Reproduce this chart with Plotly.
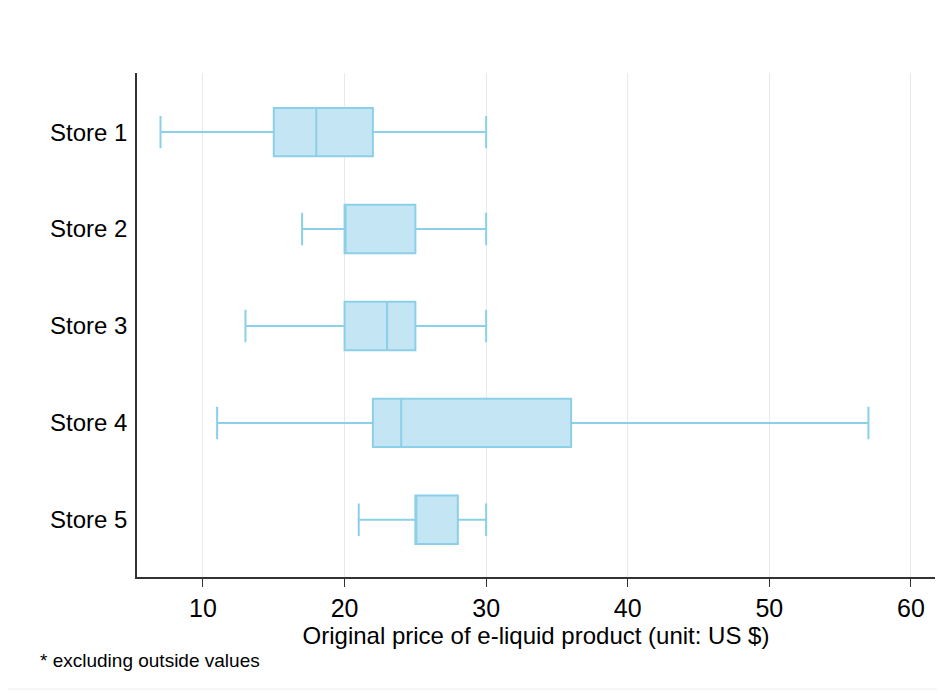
import plotly.graph_objects as go

stores = ["Store 1", "Store 2", "Store 3", "Store 4", "Store 5"]
lower = [7, 17, 13, 11, 21]
q1 = [15, 20, 20, 22, 25]
median = [18, 20, 23, 24, 25]
q3 = [22, 25, 25, 36, 28]
upper = [30, 30, 30, 57, 30]
x_ticks = [10, 20, 30, 40, 50, 60]

fig = go.Figure()
fig.add_trace(go.Box(
    y=stores, q1=q1, median=median, q3=q3,
    lowerfence=lower, upperfence=upper,
    orientation="h",
    fillcolor="#c4e5f4",
    line=dict(color="#8ccfe8", width=2),
    whiskerwidth=0.67,
    boxpoints=False,
    showlegend=False,
))

OFF = 8  # page body margin
W, H = 945 - OFF, 693 - OFF
L, R, T, B = 137 - OFF, 10, 73 - OFF, 116
pw, ph = W - L - R, H - T - B

def px(x):
    return (x - OFF - L) / pw

def py(y):
    return (H - B - (y - OFF)) / ph

narrow = "Liberation Sans Narrow, Arial Narrow, sans-serif"

fig.update_layout(
    width=W, height=H,
    margin=dict(l=L, r=R, t=T, b=B),
    paper_bgcolor="white", plot_bgcolor="white",
    boxgap=0.5, boxgroupgap=0,
    font=dict(family="Liberation Sans, Arial, sans-serif", color="black"),
    xaxis=dict(
        range=[5.34, 61.7], tickvals=x_ticks,
        showgrid=True, gridcolor="#e9e9e9", gridwidth=1,
        zeroline=False, showline=True, linecolor="#333333", linewidth=1.5,
        ticks="outside", ticklen=8, tickcolor="#333333",
        tickfont=dict(family=narrow, size=25),
        title=dict(text="Original price of e-liquid product (unit: US $)",
                   font=dict(family=narrow, size=24),
                   standoff=2),
    ),
    yaxis=dict(
        type="category", categoryorder="array", categoryarray=stores,
        range=[4.59, -0.61],
        showgrid=False, zeroline=False, showline=True,
        linecolor="#333333", linewidth=1.5, ticks="",
        tickfont=dict(size=24), ticklabelstandoff=3,
    ),
    shapes=[dict(type="rect", xref="paper", yref="paper",
                 x0=px(6), x1=px(944), y0=py(689), y1=py(7),
                 line=dict(color="#eeeeee", width=1), layer="below")],
    annotations=[dict(text="* excluding outside values", xref="paper", yref="paper",
                      x=px(38), y=py(660), xanchor="left", yanchor="middle",
                      showarrow=False,
                      font=dict(family=narrow, size=19))],
)

fig.write_html("out.html")
